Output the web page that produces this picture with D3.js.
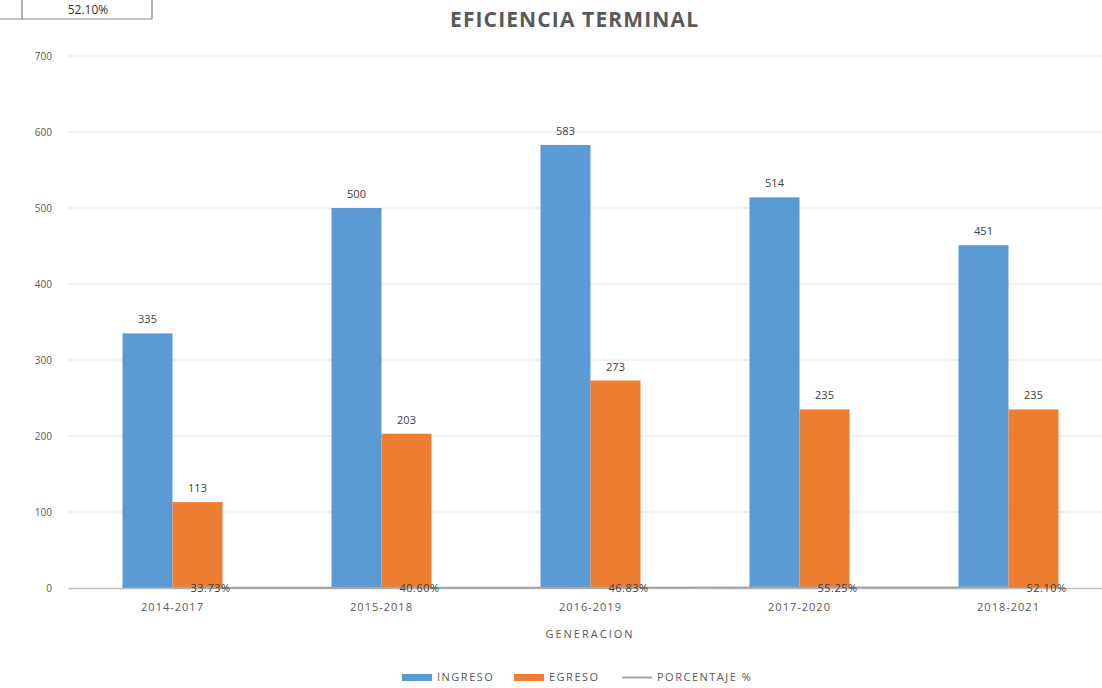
<!DOCTYPE html>
<html><head><meta charset="utf-8">
<script src="https://cdn.jsdelivr.net/npm/d3@7/dist/d3.min.js"></script>
<style>body{margin:0;background:#fff;} svg{display:block;font-family:"Open Sans",Lato,sans-serif;}</style>
</head><body>
<svg id="c" width="1102" height="688"></svg>
<script>
const categories = ["2014-2017","2015-2018","2016-2019","2017-2020","2018-2021"];
const ingreso = [335,500,583,514,451];
const egreso = [113,203,273,235,235];
const porcentaje = [0.3373,0.4060,0.4683,0.5525,0.5210];
const yTicks = [0,100,200,300,400,500,600,700];
const seriesNames = ["INGRESO","EGRESO","PORCENTAJE %"];
const cellValue = "52.10%";

const svg = d3.select("#c");
const colors = {ing:"#5B9BD5", egr:"#ED7D31", pct:"#A5A5A5"};
const x = d3.scaleBand().domain(categories).range([68,1113]);
const y = d3.scaleLinear().domain([0,700]).range([588,56]);
const barW = 50;

// spreadsheet cell artifact
svg.append("line").attr("x1",22).attr("x2",22).attr("y1",0).attr("y2",19).attr("stroke","#666");
svg.append("line").attr("x1",152).attr("x2",152).attr("y1",0).attr("y2",19).attr("stroke","#666");
svg.append("line").attr("x1",0).attr("x2",152).attr("y1",19).attr("y2",19).attr("stroke","#888");
svg.append("text").attr("x",88).attr("y",14).attr("text-anchor","middle").attr("font-size",12).attr("fill","#333").text(cellValue);

// title
svg.append("text").attr("x",574).attr("y",27).attr("text-anchor","middle").attr("font-size",21).attr("font-weight","bold").attr("fill","#595959").attr("textLength",248).text("EFICIENCIA TERMINAL");

// gridlines
svg.append("g").selectAll("line").data(yTicks.slice(1)).join("line")
  .attr("x1",68).attr("x2",1113).attr("y1",d=>y(d)).attr("y2",d=>y(d))
  .attr("stroke","#e3e3e3").attr("stroke-width",1);

// y axis labels
const yAxis = d3.axisLeft(y).tickValues(yTicks).tickSize(0).tickPadding(0);
const gy = svg.append("g").attr("transform","translate(52,0)").call(yAxis);
gy.select(".domain").remove();
gy.selectAll("text").attr("font-size",10).attr("fill","#595959").attr("font-family","'Open Sans',sans-serif").attr("dy","0.32em");

// bars
svg.append("g").selectAll("rect").data(ingreso).join("rect")
  .attr("x",(d,i)=>x(categories[i])+x.bandwidth()/2-barW).attr("width",barW)
  .attr("y",d=>y(d)).attr("height",d=>y(0)-y(d)).attr("fill",colors.ing);
svg.append("g").selectAll("rect").data(egreso).join("rect")
  .attr("x",(d,i)=>x(categories[i])+x.bandwidth()/2).attr("width",barW)
  .attr("y",d=>y(d)).attr("height",d=>y(0)-y(d)).attr("fill",colors.egr);

// value labels
svg.append("g").selectAll("text").data(ingreso).join("text")
  .attr("x",(d,i)=>x(categories[i])+x.bandwidth()/2-barW/2).attr("y",d=>y(d)-10)
  .attr("text-anchor","middle").attr("font-size",11).attr("fill","#404040").text(d=>d);
svg.append("g").selectAll("text").data(egreso).join("text")
  .attr("x",(d,i)=>x(categories[i])+x.bandwidth()/2+barW/2).attr("y",d=>y(d)-10)
  .attr("text-anchor","middle").attr("font-size",11).attr("fill","#404040").text(d=>d);

// x axis
const xAxis = d3.axisBottom(x).tickSize(0).tickPadding(0);
const gx = svg.append("g").attr("transform","translate(0,588)").call(xAxis);
gx.select(".domain").attr("stroke","#bfbfbf").attr("stroke-width",1.5);
gx.selectAll("text").attr("font-size",11).attr("letter-spacing","1px").attr("fill","#595959").attr("font-family","'Open Sans',sans-serif").attr("dy","0").attr("y",23);

// percentage line
const line = d3.line().x((d,i)=>x(categories[i])+x.bandwidth()/2).y(d=>y(d));
svg.append("path").datum(porcentaje).attr("d",line).attr("fill","none").attr("stroke",colors.pct).attr("stroke-width",2);
svg.append("g").selectAll("text").data(porcentaje).join("text")
  .attr("x",(d,i)=>x(categories[i])+x.bandwidth()/2+38).attr("y",d=>y(d)+4)
  .attr("text-anchor","middle").attr("font-size",11).attr("letter-spacing","0.5px").attr("fill","#404040").text(d=>(d*100).toFixed(2)+"%");

// axis title
svg.append("text").attr("x",590).attr("y",638).attr("text-anchor","middle").attr("font-size",11).attr("letter-spacing","2px").attr("fill","#595959").text("GENERACION");

// legend
const leg = svg.append("g");
const legItems = [
  {name:seriesNames[0], type:"rect", color:colors.ing, x:402},
  {name:seriesNames[1], type:"rect", color:colors.egr, x:514},
  {name:seriesNames[2], type:"line", color:colors.pct, x:622}
];
legItems.forEach(it=>{
  if(it.type==="rect") leg.append("rect").attr("x",it.x).attr("y",674).attr("width",30).attr("height",7).attr("fill",it.color);
  else leg.append("line").attr("x1",it.x).attr("x2",it.x+30).attr("y1",677.5).attr("y2",677.5).attr("stroke",it.color).attr("stroke-width",2);
  leg.append("text").attr("x",it.x+35).attr("y",681).attr("font-size",11).attr("letter-spacing","1.5px").attr("fill","#595959").text(it.name);
});
</script>
</body></html>
